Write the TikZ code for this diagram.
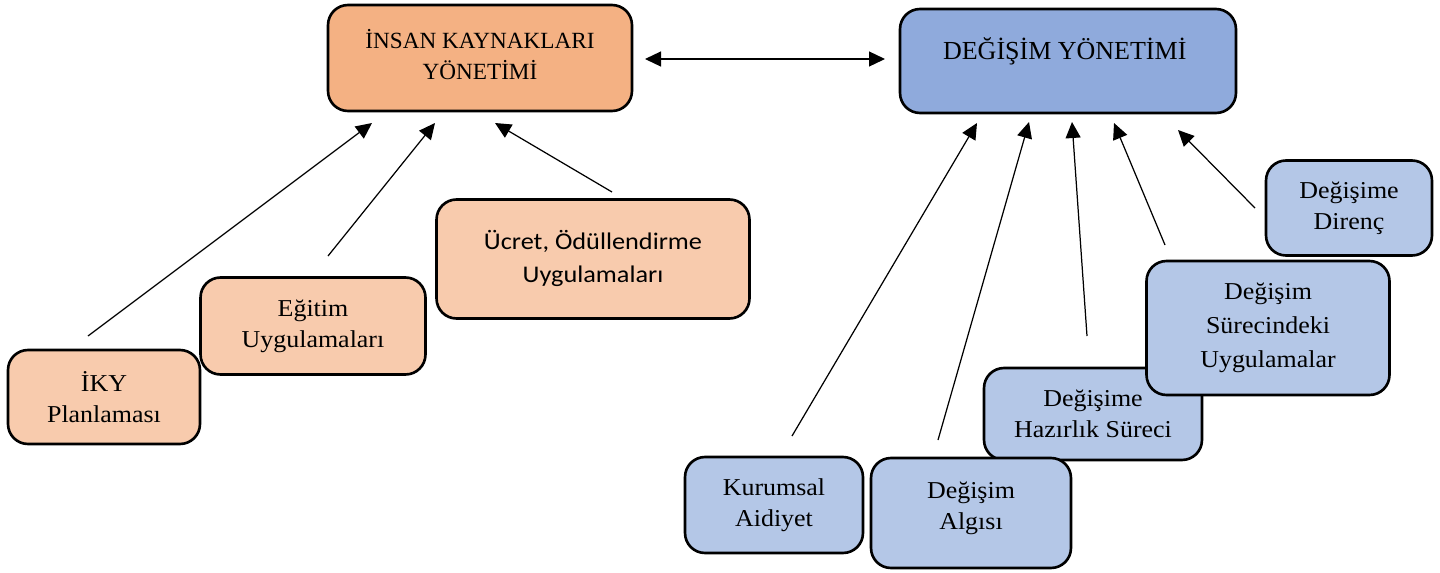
\documentclass[tikz,border=0pt]{standalone}
\usepackage{fontspec}
\setmainfont{Liberation Serif}
\newfontfamily\subfont[FakeStretch=1.07]{Liberation Serif}
\newfontfamily\calfont[FakeStretch=1.1]{Carlito}
\usetikzlibrary{arrows.meta}

\definecolor{hrdark}{HTML}{F4B183}
\definecolor{hrlight}{HTML}{F8CBAD}
\definecolor{dmdark}{HTML}{8FAADC}
\definecolor{dmlight}{HTML}{B4C7E7}

\tikzset{
    box/.style={draw=black, line width=1.5pt, rounded corners=0.4cm, align=center, inner sep=0pt},
    hrtitle/.style={box, fill=hrdark, font=\fontsize{13.2}{18}\selectfont},
    hrbox/.style={box, fill=hrlight, font=\subfont\fontsize{13.8}{17.6}\selectfont},
    dmtitle/.style={box, fill=dmdark, font=\fontsize{14.8}{18}\selectfont},
    dmbox/.style={box, fill=dmlight, font=\subfont\fontsize{13.8}{17.6}\selectfont},
    arr/.style={line width=0.7pt, -{Triangle[length=0.32cm,width=0.3cm]}}
}

\begin{document}
\begin{tikzpicture}[x=0.02cm, y=-0.02cm]
        \useasboundingbox (0, 0) rectangle (1440, 572);

        % top boxes
        \node[hrtitle, minimum width=6.08cm, minimum height=2.12cm, text depth=0.15cm] (hrm) at (480, 58) { İNSAN KAYNAKLARI\\YÖNETİMİ };
        \node[dmtitle, minimum width=6.72cm, minimum height=2.08cm, text depth=0.5cm] (dm) at (1068, 61) { DEĞİŞİM YÖNETİMİ };
        \coordinate (linkL) at (645, 59);
        \coordinate (linkR) at (885, 59);
        \draw[line width=0.7pt, {Triangle[length=0.32cm,width=0.3cm]}-{Triangle[length=0.32cm,width=0.3cm]}] (linkL) -- (linkR);

        % human resources side
        \node[hrbox, font=\calfont\fontsize{13.6}{19}\selectfont, minimum width=6.26cm, minimum height=2.38cm, text depth=0.1cm] (ucret) at (593, 259) { Ücret, Ödüllendirme\\Uygulamaları };
        \node[hrbox, minimum width=4.5cm, minimum height=1.94cm] (egitim) at (313, 326) { Eğitim\\Uygulamaları };
        \node[hrbox, minimum width=3.84cm, minimum height=1.88cm] (ikyplan) at (104, 397) { İKY\\Planlaması };

        \coordinate (ikyplanTail) at (88, 336);
        \coordinate (ikyplanHead) at (372, 123);
        \coordinate (egitimTail) at (328, 256);
        \coordinate (egitimHead) at (435, 123);
        \coordinate (ucretTail) at (612, 192);
        \coordinate (ucretHead) at (495, 123);
        \draw[arr] (ikyplanTail) -- (ikyplanHead);
        \draw[arr] (egitimTail) -- (egitimHead);
        \draw[arr] (ucretTail) -- (ucretHead);

        % change management side
        \node[dmbox, minimum width=3.56cm, minimum height=1.92cm] (kurumsal) at (774, 505) { Kurumsal\\Aidiyet };
        \node[dmbox, minimum width=4.36cm, minimum height=1.84cm] (hazirlik) at (1093, 414) { Değişime\\Hazırlık Süreci };
        \node[dmbox, minimum width=4cm, minimum height=2.2cm, text depth=0.3cm] (algi) at (971, 513) { Değişim\\Algısı };
        \node[dmbox, font=\subfont\fontsize{13.8}{19.3}\selectfont, minimum width=4.86cm, minimum height=2.68cm] (surec) at (1268, 328) { Değişim\\Sürecindeki\\Uygulamalar };
        \node[dmbox, minimum width=3.32cm, minimum height=1.9cm] (direnc) at (1349, 208) { Değişime\\Direnç };

        \coordinate (kurumsalTail) at (792, 436);
        \coordinate (kurumsalHead) at (977, 123);
        \coordinate (algiTail) at (938, 440);
        \coordinate (algiHead) at (1029, 122);
        \coordinate (hazirlikTail) at (1087, 336);
        \coordinate (hazirlikHead) at (1072, 122);
        \coordinate (surecTail) at (1165, 245);
        \coordinate (surecHead) at (1114, 123);
        \coordinate (direncTail) at (1255, 208);
        \coordinate (direncHead) at (1178, 130);
        \draw[arr] (kurumsalTail) -- (kurumsalHead);
        \draw[arr] (algiTail) -- (algiHead);
        \draw[arr] (hazirlikTail) -- (hazirlikHead);
        \draw[arr] (surecTail) -- (surecHead);
        \draw[arr] (direncTail) -- (direncHead);
    \end{tikzpicture}
\end{document}
